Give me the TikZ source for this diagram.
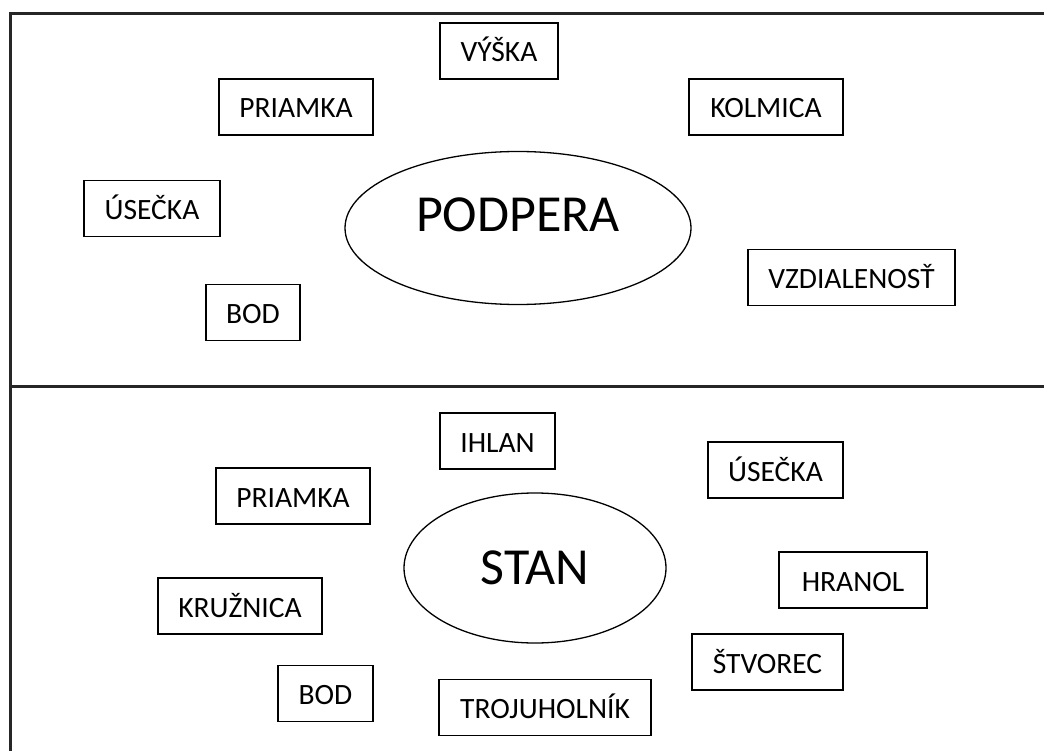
\documentclass[tikz,border=0pt]{standalone}
\usepackage{fontspec}
\setmainfont{Carlito}
\usetikzlibrary{shapes.geometric}
\begin{document}
\begin{tikzpicture}[x=1pt,y=-1pt,
  frameline/.style={line width=2.2pt,draw=black!85},
  wordbox/.style={draw, line width=1.4pt, rectangle, inner sep=0pt, minimum height=56pt,
    font=\fontsize{29.5}{31}\selectfont, text height=22pt, text depth=0pt},
  topic/.style={draw, line width=1.3pt, ellipse, inner sep=0pt,
    font=\fontsize{52}{56}\selectfont, text height=33pt}]
\useasboundingbox (0,0) rectangle (1044,751);
% frame
\coordinate (tl) at (10.5,13.5);
\coordinate (tr) at (1044,13.5);
\coordinate (ml) at (10.5,386.5);
\coordinate (mr) at (1044,386.5);
\coordinate (bl) at (10.5,751);
\draw[frameline] (tr) -- (tl) -- (bl);
\draw[frameline] (ml) -- (mr);
% top panel
\node[topic, minimum width=346pt, minimum height=153pt, text depth=26pt] (podpera) at (518,228) {PODPERA};
\node[wordbox, minimum width=118pt] (vyska) at (499,51) {VÝŠKA};
\node[wordbox, minimum width=154pt] (priamka1) at (296,107) {PRIAMKA};
\node[wordbox, minimum width=154pt] (kolmica) at (766,107) {KOLMICA};
\node[wordbox, minimum width=136pt] (usecka1) at (152,208.5) {ÚSEČKA};
\node[wordbox, minimum width=207pt] (vzdialenost) at (851.5,277.5) {VZDIALENOSŤ};
\node[wordbox, minimum width=94pt] (bod1) at (253,312.5) {BOD};
% bottom panel
\node[topic, minimum width=262pt, minimum height=150pt, text depth=0pt] (stan) at (535,568) {STAN};
\node[wordbox, minimum width=115pt] (ihlan) at (497.5,441) {IHLAN};
\node[wordbox, minimum width=135pt] (usecka2) at (775.5,470) {ÚSEČKA};
\node[wordbox, minimum width=154pt] (priamka2) at (293,496) {PRIAMKA};
\node[wordbox, minimum width=148pt] (hranol) at (853,580) {HRANOL};
\node[wordbox, minimum width=164pt] (kruznica) at (240,606) {KRUŽNICA};
\node[wordbox, minimum width=151pt] (stvorec) at (767.5,662) {ŠTVOREC};
\node[wordbox, minimum width=95pt] (bod2) at (325.5,693.5) {BOD};
\node[wordbox, minimum width=212pt] (trojuholnik) at (545,707.5) {TROJUHOLNÍK};
\end{tikzpicture}
\end{document}
